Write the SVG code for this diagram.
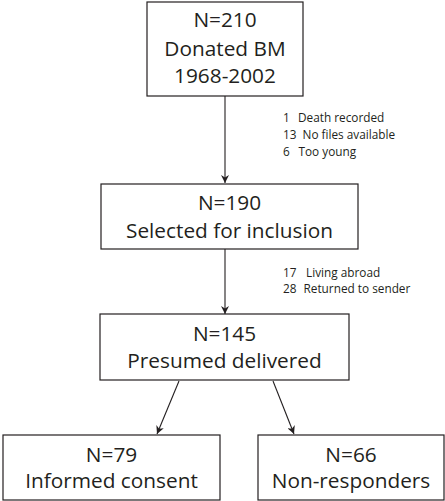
<svg xmlns="http://www.w3.org/2000/svg" width="445" height="501" viewBox="0 0 445 501">
<defs>
<style>
.box{fill:#fff;stroke:#231f20;stroke-width:1.2}
.t{font-family:"Open Sans","Noto Sans",sans-serif;font-size:20.8px;fill:#231f20;text-anchor:middle}
.s{font-family:"Open Sans","Noto Sans",sans-serif;font-size:11.8px;fill:#231f20}
.c{stroke:#231f20;stroke-width:1.1;fill:none;marker-end:url(#ah)}
</style>
<marker id="ah" viewBox="0 0 10 10" refX="10" refY="5" markerWidth="8" markerHeight="8" markerUnits="userSpaceOnUse" orient="auto">
<path d="M0,0 L10,5 L0,10 L3,5 Z" fill="#231f20"/>
</marker>
</defs>
<g id="connectors">
<line class="c" x1="225" y1="96" x2="225" y2="183"/>
<line class="c" x1="225" y1="249" x2="225" y2="314"/>
<line class="c" x1="179" y1="381" x2="157" y2="434"/>
<line class="c" x1="273" y1="381" x2="294" y2="434"/>
</g>
<g id="n1">
<rect class="box" x="147" y="2" width="156" height="94"/>
<text class="t" x="225" y="27">N=210</text>
<text class="t" x="225" y="56">Donated BM</text>
<text class="t" x="225" y="83">1968-2002</text>
</g>
<g id="excl1">
<text class="s" y="122"><tspan x="283">1</tspan><tspan x="298">Death recorded</tspan></text>
<text class="s" y="139"><tspan x="283">13</tspan><tspan x="302.5">No files available</tspan></text>
<text class="s" y="156"><tspan x="283">6</tspan><tspan x="298.5">Too young</tspan></text>
</g>
<g id="n2">
<rect class="box" x="101" y="184" width="257" height="65"/>
<text class="t" x="229.5" y="210">N=190</text>
<text class="t" x="229.5" y="238">Selected for inclusion</text>
</g>
<g id="excl2">
<text class="s" y="277"><tspan x="283">17</tspan><tspan x="306">Living abroad</tspan></text>
<text class="s" y="292.5"><tspan x="283">28</tspan><tspan x="303.5">Returned to sender</tspan></text>
</g>
<g id="n3">
<rect class="box" x="100" y="314" width="249" height="66"/>
<text class="t" x="224.5" y="341">N=145</text>
<text class="t" x="224.5" y="368">Presumed delivered</text>
</g>
<g id="n4">
<rect class="box" x="3" y="435" width="217" height="65"/>
<text class="t" x="111.5" y="462">N=79</text>
<text class="t" x="111.5" y="488">Informed consent</text>
</g>
<g id="n5">
<rect class="box" x="258" y="435" width="186" height="65"/>
<text class="t" x="351" y="462">N=66</text>
<text class="t" x="351" y="488">Non-responders</text>
</g>
</svg>
